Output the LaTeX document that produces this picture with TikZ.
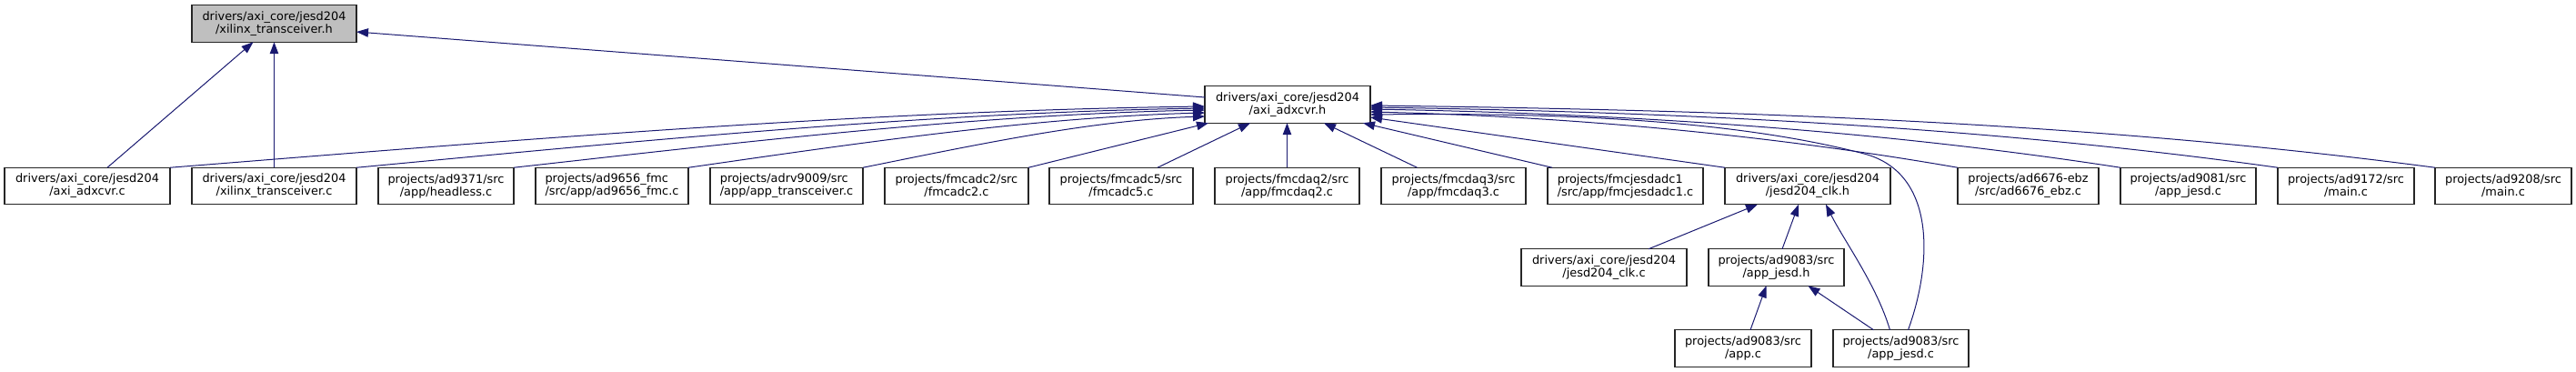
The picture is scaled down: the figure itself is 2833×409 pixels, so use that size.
\documentclass[tikz,border=0pt]{standalone}
\usepackage{fontspec}
\setmainfont{DejaVu Sans}
\usetikzlibrary{arrows.meta,calc}
\definecolor{edgecol}{HTML}{191970}
\definecolor{rootfill}{HTML}{BFBFBF}
\definecolor{boxline}{HTML}{262626}
\begin{document}
\begin{tikzpicture}[x=1pt,y=-1pt,
  fbox/.style={draw=boxline, line width=1.1pt, fill=white, rectangle, inner sep=0pt, outer sep=0pt,
    minimum height=40.5pt, align=center, font=\fontsize{12.9pt}{14pt}\selectfont},
  lbox/.style={fbox, align=left},
  rootbox/.style={fbox, fill=rootfill},
  dep/.style={draw=edgecol, line width=1pt, -{Triangle[length=13pt,width=9.5pt]}}
]
\useasboundingbox (0,0) rectangle (2833,409);

% row 0
\node[rootbox, minimum width=181pt] (xth) at (301.5,26) {drivers/axi\_core/jesd204\\/xilinx\_transceiver.h};
% row 1
\node[fbox, minimum width=182pt] (axih) at (1416,115) {drivers/axi\_core/jesd204\\/axi\_adxcvr.h};
% row 2
\node[fbox, minimum width=182pt] (axic) at (96,204.5) {drivers/axi\_core/jesd204\\/axi\_adxcvr.c};
\node[fbox, minimum width=181pt] (xtc) at (301.5,204.5) {drivers/axi\_core/jesd204\\/xilinx\_transceiver.c};
\node[fbox, minimum width=149pt] (headless) at (490.5,204.5) {projects/ad9371/src\\/app/headless.c};
\node[lbox, minimum width=168pt] (ad9656) at (673,204.5) {projects/ad9656\_fmc\\/src/app/ad9656\_fmc.c};
\node[lbox, minimum width=168pt] (apptr) at (865,204.5) {projects/adrv9009/src\\/app/app\_transceiver.c};
\node[fbox, minimum width=158pt] (fmcadc2) at (1052,204.5) {projects/fmcadc2/src\\/fmcadc2.c};
\node[fbox, minimum width=158pt] (fmcadc5) at (1233,204.5) {projects/fmcadc5/src\\/fmcadc5.c};
\node[fbox, minimum width=159pt] (fmcdaq2) at (1415.5,204.5) {projects/fmcdaq2/src\\/app/fmcdaq2.c};
\node[fbox, minimum width=159pt] (fmcdaq3) at (1598.5,204.5) {projects/fmcdaq3/src\\/app/fmcdaq3.c};
\node[lbox, minimum width=171pt] (fmcjesd) at (1787.5,204.5) {projects/fmcjesdadc1\\/src/app/fmcjesdadc1.c};
\node[fbox, minimum width=182pt] (jclkh) at (1988,204.5) {drivers/axi\_core/jesd204\\/jesd204\_clk.h};
\node[fbox, minimum width=155pt] (ad6676) at (2230.5,204.5) {projects/ad6676-ebz\\/src/ad6676\_ebz.c};
\node[fbox, minimum width=149pt] (ad9081) at (2406.5,204.5) {projects/ad9081/src\\/app\_jesd.c};
\node[fbox, minimum width=150pt] (ad9172) at (2580,204.5) {projects/ad9172/src\\/main.c};
\node[fbox, minimum width=150pt] (ad9208) at (2753,204.5) {projects/ad9208/src\\/main.c};
% row 3
\node[fbox, minimum width=182pt] (jclkc) at (1764,294) {drivers/axi\_core/jesd204\\/jesd204\_clk.c};
\node[fbox, minimum width=149pt] (appjh) at (1953.5,294) {projects/ad9083/src\\/app\_jesd.h};
% row 4
\node[fbox, minimum width=150pt] (appc) at (1917,383) {projects/ad9083/src\\/app.c};
\node[fbox, minimum width=149pt] (appjc) at (2090.5,383) {projects/ad9083/src\\/app\_jesd.c};

% edges to xilinx_transceiver.h
\draw[dep] ($(axic.north)+(22,0)$) -- ($(xth.south)+(-23,0)$);
\draw[dep] (xtc.north) -- (xth.south);
\draw[dep] ($(axih.west)+(0,-8)$) -- ($(xth.east)+(0,9)$);

% edges to axi_adxcvr.h from the left
\draw[dep] (axic.north east) .. controls +(376,-30) and +(-376,5) .. ($(axih.west)+(0,2)$);
\draw[dep] (xtc.north east) .. controls +(308,-29) and +(-308,5) .. ($(axih.west)+(0,4)$);
\draw[dep] (headless.north east) .. controls +(251,-28) and +(-251,5) .. ($(axih.west)+(0,6)$);
\draw[dep] (ad9656.north east) .. controls +(187,-27) and +(-187,5) .. ($(axih.west)+(0,9)$);
\draw[dep] (apptr.north east) .. controls +(124,-25) and +(-124,4) .. ($(axih.west)+(0,13)$);
\draw[dep] (fmcadc2.north east) -- ($(axih.south west)+(4,0)$);
\draw[dep] ($(fmcadc5.north)+(40,0)$) -- ($(axih.south west)+(50,0)$);
\draw[dep] (fmcdaq2.north) -- (fmcdaq2.north |- axih.south);
\draw[dep] ($(fmcdaq3.north)+(-40,0)$) -- ($(axih.south)+(40,0)$);
\draw[dep] ($(fmcjesd.north west)+(5,0)$) -- ($(axih.south east)+(-8,0)$);

% edges to axi_adxcvr.h from the right
\draw[dep] (jclkh.north west) -- ($(axih.east)+(0,14)$);
\draw[dep] (ad6676.north west) .. controls +(-213,-37) and +(213,5) .. ($(axih.east)+(0,8)$);
\draw[dep] (ad9081.north west) .. controls +(-272,-42) and +(272,5) .. ($(axih.east)+(0,5)$);
\draw[dep] (ad9172.north west) .. controls +(-329,-46) and +(329,5) .. ($(axih.east)+(0,3)$);
\draw[dep] (ad9208.north west) .. controls +(-386,-51) and +(386,5) .. ($(axih.east)+(0,1)$);
\draw[dep] ($(appjc.north)+(8,0)$) .. controls (2125,290) and (2130,190) .. (2050,169)
   .. controls (1900,130) and (1700,124) .. ($(axih.east)+(0,11)$);

% lower edges
\draw[dep] ($(jclkc.north)+(49,0)$) -- ($(jclkh.south)+(-55,0)$);
\draw[dep] ($(appjh.north)+(6.5,0)$) -- ($(jclkh.south)+(-10,0)$);
\draw[dep] ($(appjc.north)+(-12,0)$) .. controls +(-15,-50) and +(20,40) .. ($(jclkh.south)+(20,0)$);
\draw[dep] ($(appc.north)+(8,0)$) -- ($(appjh.south)+(-11,0)$);
\draw[dep] ($(appjc.north)+(-30,0)$) -- ($(appjh.south)+(35,0)$);
\end{tikzpicture}
\end{document}
